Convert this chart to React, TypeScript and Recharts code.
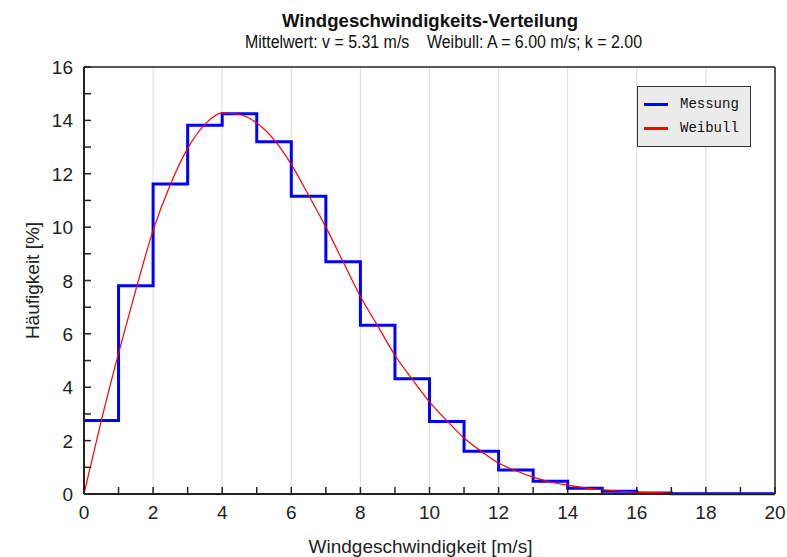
import { LineChart, Line, XAxis, YAxis, CartesianGrid, ReferenceLine } from "recharts";

// Messung: Häufigkeit je 1 m/s Klasse (Wert gilt ab Klassenbeginn)
const binStart = [0, 1, 2, 3, 4, 5, 6, 7, 8, 9, 10, 11, 12, 13, 14, 15, 16, 17, 18, 19, 20];
const messung = [2.75, 7.8, 11.62, 13.82, 14.25, 13.2, 11.16, 8.7, 6.32, 4.32, 2.72, 1.6, 0.9, 0.48, 0.22, 0.1, 0.04, 0.01, 0.01, 0.01, 0.01];

// Weibull-Kurve
const weibullSpeed = [0, 0.5, 1, 1.5, 2, 2.5, 3, 3.5, 4, 4.5, 5, 5.5, 6, 6.5, 7, 7.5, 8, 8.5, 9, 9.5, 10, 10.5, 11, 11.5, 12, 12.5, 13, 13.5, 14, 14.5, 15, 15.5, 16, 16.5, 17];
const weibullValue = [0, 2.75, 5.28, 7.65, 9.88, 11.6, 12.95, 13.85, 14.28, 14.22, 13.9, 13.28, 12.35, 11.2, 10.0, 8.7, 7.4, 6.3, 5.2, 4.3, 3.45, 2.75, 2.1, 1.6, 1.16, 0.87, 0.63, 0.45, 0.33, 0.23, 0.16, 0.11, 0.07, 0.05, 0.03];

const xTicks = [0, 1, 2, 3, 4, 5, 6, 7, 8, 9, 10, 11, 12, 13, 14, 15, 16, 17, 18, 19, 20];
const yTicks = [0, 1, 2, 3, 4, 5, 6, 7, 8, 9, 10, 11, 12, 13, 14, 15, 16];
const gridX = [2, 4, 6, 8, 10, 12, 14, 16, 18];

const title = "Windgeschwindigkeits-Verteilung";
const subtitle = "Mittelwert: v = 5.31 m/s    Weibull: A = 6.00 m/s; k = 2.00";
const seriesNames = ["Messung", "Weibull"];
const seriesColors = ["#0000ff", "#ff0000"];

const FONT = '"Liberation Sans", Arial, sans-serif';
const AXIS = "#222";

const messungData = binStart.map((x, i) => ({ x, y: messung[i] }));
const weibullData = weibullSpeed.map((x, i) => ({ x, y: weibullValue[i] }));

const XTick = ({ x, y, payload }: any) => (
  <g>
    <line x1={x} x2={x} y1={y - 7} y2={y} stroke={AXIS} strokeWidth={1.5} />
    {payload.value % 2 === 0 && (
      <text x={x} y={y + 25} textAnchor="middle" fill="#222" fontSize={19} fontFamily={FONT}>
        {payload.value}
      </text>
    )}
  </g>
);

const YTick = ({ x, y, payload }: any) => (
  <g>
    <line x1={x} x2={x + 7} y1={y} y2={y} stroke={AXIS} strokeWidth={1.5} />
    {payload.value % 2 === 0 && (
      <text x={x - 11} y={y + 7} textAnchor="end" fill="#222" fontSize={19} fontFamily={FONT}>
        {payload.value}
      </text>
    )}
  </g>
);

export default function App() {
  return (
    <div style={{ position: "absolute", left: 0, top: 0, width: 787, height: 557, background: "#fff" }}>
      <svg width={787} height={60} style={{ position: "absolute", left: 0, top: 0 }}>
        <text x={282} y={27} textLength={296} lengthAdjust="spacingAndGlyphs" fontFamily={FONT} fontWeight="bold" fontSize={19} fill="#111">
          {title}
        </text>
        <text x={245} y={48} textLength={397} lengthAdjust="spacingAndGlyphs" fontFamily={FONT} fontSize={18} fill="#111" style={{ whiteSpace: "pre" }}>
          {subtitle}
        </text>
      </svg>
      <div style={{ position: "absolute", left: 0, top: 0 }}>
        <LineChart width={787} height={557} margin={{ top: 67, right: 12, bottom: 0, left: 0 }}>
          <CartesianGrid horizontal={false} verticalValues={gridX} stroke="#dcdcdc" strokeWidth={1} />
          <XAxis
            type="number"
            dataKey="x"
            domain={[0, 20]}
            ticks={xTicks}
            interval={0}
            allowDuplicatedCategory={false}
            height={63}
            tickSize={0}
            tickMargin={0}
            tick={<XTick />}
            axisLine={{ stroke: AXIS, strokeWidth: 2 }}
            label={{ value: "Windgeschwindigkeit [m/s]", position: "insideBottom", offset: 4, dx: -9, style: { fontFamily: FONT, fontSize: 19, fill: "#222" } }}
          />
          <YAxis
            type="number"
            domain={[0, 16]}
            ticks={yTicks}
            interval={0}
            width={84}
            tickSize={0}
            tickMargin={0}
            tick={<YTick />}
            axisLine={{ stroke: AXIS, strokeWidth: 2 }}
            label={{ value: "Häufigkeit [%]", angle: -90, position: "insideLeft", offset: 32, style: { textAnchor: "middle", fontFamily: FONT, fontSize: 19, fill: "#222" } }}
          />
          <ReferenceLine y={16} stroke={AXIS} strokeWidth={1.5} />
          <ReferenceLine x={20} stroke={AXIS} strokeWidth={1.5} />
          <Line
            data={messungData}
            dataKey="y"
            name={seriesNames[0]}
            type="stepAfter"
            stroke={seriesColors[0]}
            strokeWidth={3}
            dot={false}
            isAnimationActive={false}
          />
          <Line
            data={weibullData}
            dataKey="y"
            name={seriesNames[1]}
            type="monotone"
            stroke={seriesColors[1]}
            strokeWidth={1.2}
            dot={false}
            isAnimationActive={false}
          />
        </LineChart>
      </div>
      <div
        style={{
          position: "absolute",
          left: 637,
          top: 86,
          width: 112,
          height: 59,
          background: "#ebebeb",
          border: "1.5px solid #333",
          fontFamily: '"Liberation Mono", "DejaVu Sans Mono", monospace',
          fontSize: 14,
          color: "#111",
        }}
      >
        {seriesNames.map((name, i) => (
          <div key={name} style={{ position: "absolute", left: 0, top: 8 + i * 24, height: 18, display: "flex", alignItems: "center" }}>
            <div style={{ marginLeft: 6, width: 24, height: 3, background: seriesColors[i] }} />
            <span style={{ marginLeft: 12 }}>{name}</span>
          </div>
        ))}
      </div>
    </div>
  );
}
